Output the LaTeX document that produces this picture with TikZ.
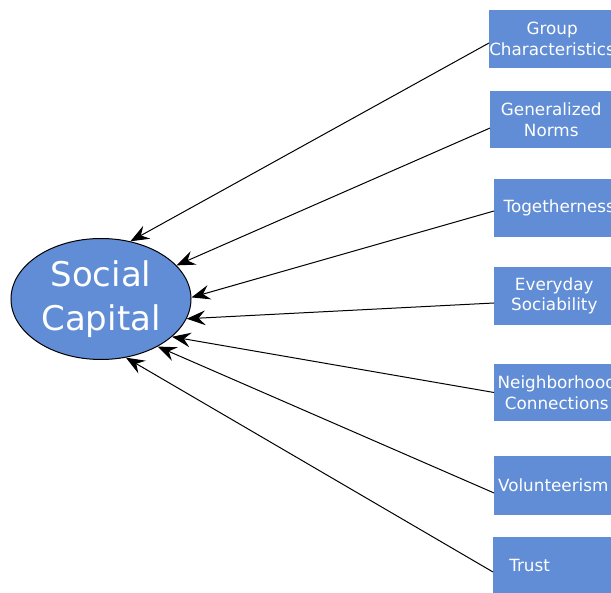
\documentclass[tikz,border=0pt]{standalone}
\usepackage{fontspec}
\setmainfont{DejaVu Sans}
\usetikzlibrary{arrows.meta,shapes.geometric}
\definecolor{factorblue}{RGB}{96,141,213}
\tikzset{
    factor/.style={fill=factorblue,text=white,rectangle,anchor=west,inner sep=0pt,align=center,font=\fontsize{12.6}{15.5}\selectfont},
    link/.style={-{Stealth[length=14pt,width=11pt,inset=5pt]},line width=0.75pt}
}
\begin{document}
\begin{tikzpicture}[x=0.75pt,y=0.75pt]
        \useasboundingbox (0,0) rectangle (611,593);
        \clip (0,0) rectangle (611,593);

        %%%%%%%% Construct %%%%%%%%
        \node[draw,ellipse,fill=factorblue,text=white,line width=0.75pt,inner sep=0pt,minimum width=135pt,minimum height=90.75pt,align=center,font=\fontsize{25.5}{33}\selectfont] (SC) at (101,294) {Social\\Capital};

        %%%%%%%% Factors %%%%%%%%%
        \node[factor,minimum width=93pt,minimum height=43.5pt] (B1) at (489,554) {Group\\Characteristics};
        \node[factor,minimum width=91.5pt,minimum height=42.75pt] (B2) at (490,473.5) {Generalized\\Norms};
        \node[factor,minimum width=97.5pt,minimum height=43.5pt] (B3) at (494,385) {Togetherness};
        \node[factor,minimum width=90pt,minimum height=43.5pt] (B4) at (494,297) {Everyday\\Sociability};
        \node[factor,minimum width=93.75pt,minimum height=42.75pt] (B5) at (494,200.5) {Neighborhood\\Connections};
        \node[factor,minimum width=88.5pt,minimum height=44.25pt] (B6) at (494,107.5) {Volunteerism};
        \node[factor,text width=90pt,align=left,inner xsep=12pt,minimum height=42pt] (B7) at (493,28) {Trust};

        %%%%%%%%% Links %%%%%%%%%%
        \draw[link] ([yshift=-3pt]B1.west) -- (SC.63.8);
        \draw[link] ([yshift=-6.4pt]B2.west) -- (SC.24);
        \draw[link] ([yshift=-2.25pt]B3.west) -- (SC.1.6);
        \draw[link] ([yshift=-5.25pt]B4.west) -- (SC.-13.6);
        \draw[link] (B5.west) -- (SC.-28.5);
        \draw[link] ([yshift=-5.6pt]B6.west) -- (SC.-40.4);
        \draw[link] ([yshift=-5.25pt]B7.west) -- (SC.-67.7);
\end{tikzpicture}
\end{document}
